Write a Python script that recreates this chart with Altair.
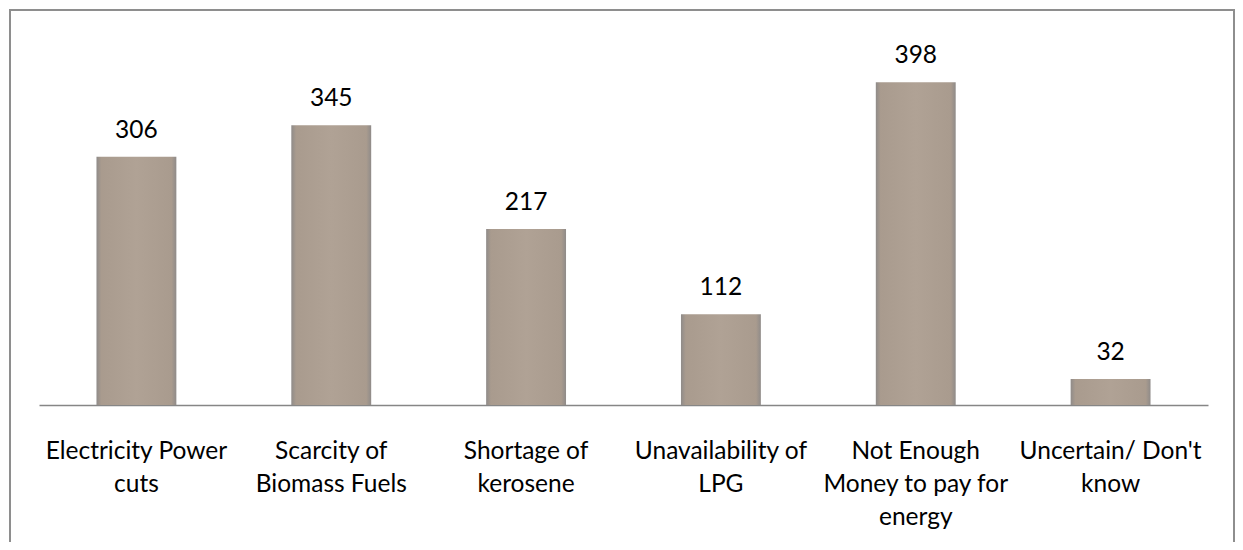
import altair as alt
import pandas as pd

categories = [
    "Electricity Power|cuts",
    "Scarcity of|Biomass Fuels",
    "Shortage of|kerosene",
    "Unavailability of|LPG",
    "Not Enough|Money to pay for|energy",
    "Uncertain/ Don't|know",
]
counts = [306, 345, 217, 112, 398, 32]

df = pd.DataFrame({"category": categories, "count": counts})

FONT = "Lato"
FS = 24.5

bar_fill = alt.Gradient(
    gradient="linear", x1=0, x2=1, y1=0, y2=0,
    stops=[
        alt.GradientStop(color="#8f8b89", offset=0),
        alt.GradientStop(color="#a99b8e", offset=0.06),
        alt.GradientStop(color="#b0a295", offset=0.5),
        alt.GradientStop(color="#a99b8e", offset=0.94),
        alt.GradientStop(color="#8f8b89", offset=1),
    ],
)

x_enc = alt.X(
    "category:N",
    sort=categories,
    title=None,
    scale=alt.Scale(paddingInner=0.59, paddingOuter=0.295),
    axis=alt.Axis(
        labelAngle=0,
        labelExpr="split(datum.label, '|')",
        labelFont=FONT,
        labelFontSize=FS,
        labelColor="#000000",
        labelBaseline="top",
        labelPadding=34,
        labelLineHeight=33,
        labelLimit=400,
        ticks=False,
        tickSize=0,
        domainColor="#868686",
        domainWidth=1.5,
        grid=False,
    ),
)
y_enc = alt.Y("count:Q", scale=alt.Scale(domain=[0, 450]), axis=None)

base = alt.Chart(df)

bars = base.mark_bar(fill=bar_fill).encode(x=x_enc, y=y_enc)

labels = base.mark_text(
    font=FONT, fontSize=FS, color="#000000", baseline="middle", dy=-26
).encode(x=alt.X("category:N", sort=categories), y="count:Q", text="count:Q")

frame = alt.Chart(alt.Data(values=[{}])).mark_rect(
    fillOpacity=0, stroke="#8e8e8e", strokeWidth=2
).encode(
    x=alt.value(-29), x2=alt.value(1195), y=alt.value(-30), y2=alt.value(700)
)

chart = alt.layer(bars, labels, frame).properties(
    width=1169,
    height=365,
    autosize=alt.AutoSizeParams(type="none"),
    padding={"left": 31, "top": 32, "right": 27, "bottom": 137},
).configure_view(stroke=None)

chart.save("out.html", embed_options={"renderer": "svg", "actions": False})
